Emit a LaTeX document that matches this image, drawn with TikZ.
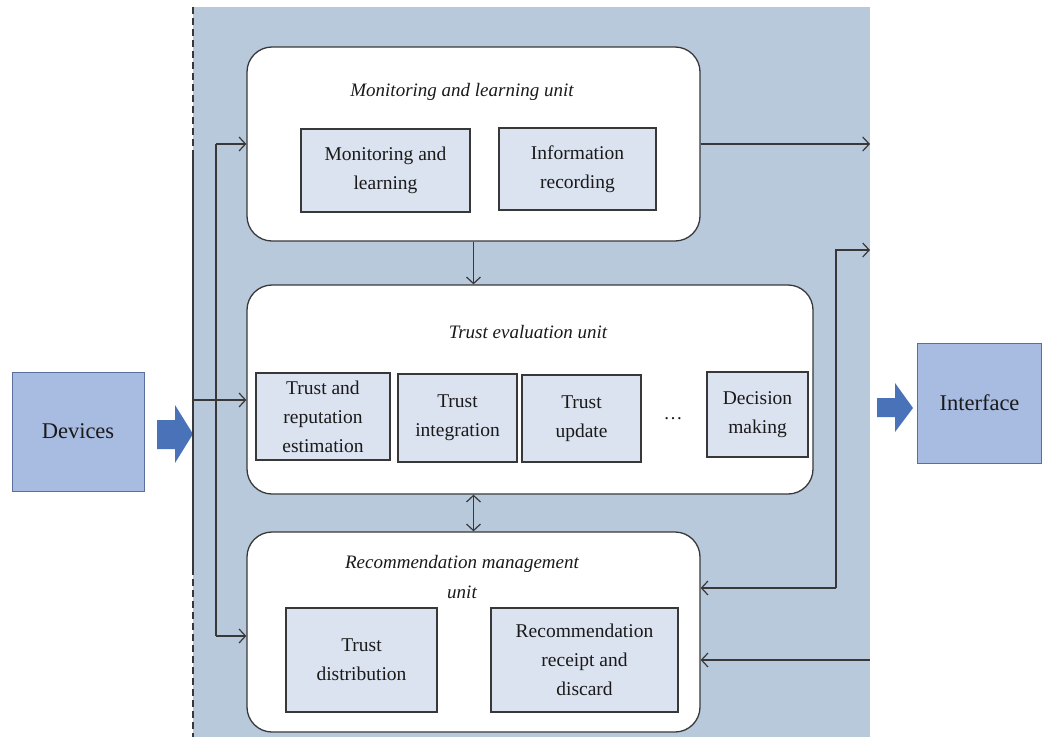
\documentclass[tikz,border=0pt]{standalone}
\usepackage{fontspec}
\setmainfont{Liberation Serif}
\usetikzlibrary{arrows.meta}
\definecolor{panelc}{HTML}{B9C9DC}
\definecolor{innerc}{HTML}{DCE3F0}
\definecolor{linec}{HTML}{383838}
\definecolor{devc}{HTML}{A8BBE0}
\definecolor{devline}{HTML}{5B6F9C}
\definecolor{blockc}{HTML}{4A72B8}
\definecolor{textc}{HTML}{1A1A1A}
\begin{document}
\begin{tikzpicture}[x=1pt,y=-1pt,
  unitbox/.style={draw=linec, fill=white, rounded corners=25pt, line width=1.3pt},
  inbox/.style={draw=linec, fill=innerc, line width=1.2pt, align=center, text=textc,
     font=\fontsize{19.5}{29}\selectfont, inner sep=0pt},
  titletext/.style={align=center, text=textc, font=\fontsize{19}{30}\selectfont\itshape},
  bigbox/.style={draw=devline, fill=devc, line width=1pt, text=textc, font=\fontsize{22.5}{26}\selectfont},
  conn/.style={draw=linec, line width=1.2pt},
  arr/.style={conn, -{Straight Barb[length=6.5pt,width=14pt]}},
  darr/.style={conn, {Straight Barb[length=6.5pt,width=14pt]}-{Straight Barb[length=6.5pt,width=14pt]}},
  blockarrow/.style={fill=blockc, draw=none}
]
\useasboundingbox (0,0) rectangle (1042,737);
\fill[panelc] (193,7) rectangle (870,737);
\draw[conn, dash pattern=on 7pt off 4pt] (193,7) -- (193,737);

% units
\node[unitbox, minimum width=453pt, minimum height=194pt] (mlu) at (473.5,144) {};
\node[titletext] (mlt) at (462,92) {Monitoring and learning unit};
\node[inbox, minimum width=169pt, minimum height=83pt] (ml1) at (385.5,170.5) {Monitoring and\\learning};
\node[inbox, minimum width=157pt, minimum height=82pt] (ml2) at (577.5,169) {Information\\recording};

\node[unitbox, minimum width=566pt, minimum height=209pt] (teu) at (530,389.5) {};
\node[titletext] (tet) at (528,332) {Trust evaluation unit};
\node[inbox, minimum width=134pt, minimum height=87pt] (te1) at (323,416.5) {Trust and\\reputation\\estimation};
\node[inbox, minimum width=119pt, minimum height=88pt] (te2) at (457.5,418) {Trust\\integration};
\node[inbox, minimum width=119pt, minimum height=87pt] (te3) at (581.5,418.5) {Trust\\update};
\node[text=textc, font=\fontsize{19}{26}\selectfont] (dots) at (673,419) {\ldots};
\node[inbox, minimum width=101pt, minimum height=85pt] (te4) at (757.5,414.5) {Decision\\making};

\node[unitbox, minimum width=453pt, minimum height=200pt] (rmu) at (473.5,632) {};
\node[titletext] (rmt) at (462,577) {Recommendation management\\unit};
\node[inbox, minimum width=151pt, minimum height=104pt] (rm1) at (361.5,660) {Trust\\distribution};
\node[inbox, minimum width=187pt, minimum height=104pt] (rm2) at (584.5,660) {Recommendation\\receipt and\\discard};

% outer boxes
\node[bigbox, minimum width=132pt, minimum height=119pt] (dev) at (78,431.5) {Devices};
\node[bigbox, minimum width=124pt, minimum height=120pt] (intf) at (979.5,403) {Interface};

% block arrows
\fill[blockarrow] (157,420) -- (175,420) -- (175,405) -- (193,434) -- (175,463) -- (175,449) -- (157,449) -- cycle;
\fill[blockarrow] (877,398) -- (895,398) -- (895,383) -- (913,408) -- (895,432) -- (895,417) -- (877,417) -- cycle;

% left bus
\coordinate (busTop) at (193,155);
\coordinate (busBot) at (193,570);
\coordinate (busMid) at (193,400);
\coordinate (brTop) at (216,144);
\coordinate (brBot) at (216,636);
\draw[conn] (busTop) -- (busBot);
\draw[conn] (brTop) -- (brBot);
\draw[arr] (brTop) -- (brTop -| mlu.west);
\draw[arr] (busMid) -- (busMid -| teu.west);
\draw[arr] (brBot) -- (brBot -| rmu.west);

% vertical links
\draw[arr] (mlu.south) -- (teu.north -| mlu.south);
\draw[darr] (teu.south -| rmu.north) -- (rmu.north);

% right side
\coordinate (outTop) at (870,144);
\coordinate (rcorner) at (836,588);
\coordinate (rtop) at (836,250);
\coordinate (outMid) at (870,250);
\coordinate (inBot) at (870,660);
\draw[arr] (mlu.east) -- (outTop);
\draw[arr] (rcorner) -- (rtop) -- (outMid);
\draw[arr] (rcorner) -- (rcorner -| rmu.east);
\draw[arr] (inBot) -- (inBot -| rmu.east);
\end{tikzpicture}
\end{document}
